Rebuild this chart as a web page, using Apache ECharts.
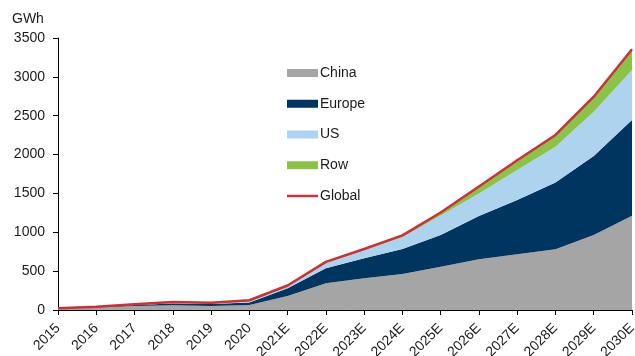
<!DOCTYPE html>
<html>
<head>
<meta charset="utf-8">
<script src="https://cdn.jsdelivr.net/npm/echarts@6/dist/echarts.min.js"></script>
<style>
html,body{margin:0;padding:0;background:#fff;}
#chart{width:635px;height:356px;}
</style>
</head>
<body>
<div id="chart"></div>
<script>
var categories = ['2015','2016','2017','2018','2019','2020','2021E','2022E','2023E','2024E','2025E','2026E','2027E','2028E','2029E','2030E'];
var china  = [17, 33, 50, 60, 51, 64, 180, 344, 408, 463, 557, 652, 717, 781, 965, 1214];
var europe = [3, 6, 15, 25, 26, 32, 99, 193, 257, 322, 408, 558, 699, 860, 1017, 1231];
var us     = [1, 2, 4, 8, 7, 14, 21, 64, 105, 150, 250, 290, 386, 461, 570, 644];
var row    = [1, 2, 4, 10, 10, 15, 15, 19, 15, 25, 40, 90, 125, 150, 193, 266];
var globalTotal = [22, 43, 73, 103, 94, 125, 315, 620, 785, 960, 1255, 1590, 1927, 2252, 2745, 3355];
var yTicks = [0, 500, 1000, 1500, 2000, 2500, 3000, 3500];

var font = 'Liberation Sans, Arial, sans-serif';
var txt = '#1a1a1a';
function area(name, data, color) {
  return {
    name: name, type: 'line', stack: 'total', data: data,
    symbol: 'none', lineStyle: {width: 0}, areaStyle: {color: color, opacity: 1},
    itemStyle: {color: color}, emphasis: {disabled: true}, z: 2
  };
}
var chart = echarts.init(document.getElementById('chart'), null, {renderer: 'canvas'});
chart.setOption({
  animation: false,
  backgroundColor: '#fff',
  grid: {left: 58, right: 3, top: 38, bottom: 46, containLabel: false, outerBoundsMode: 'none'},
  graphic: [{type: 'text', left: 12, top: 12, style: {text: 'GWh', font: '14px ' + font, fill: txt}}],
  legend: {
    orient: 'vertical', left: 282, top: 60,
    itemWidth: 31, itemHeight: 8, itemGap: 14.75,
    textStyle: {fontFamily: font, fontSize: 14, color: txt, lineHeight: 16, padding: [0,0,0,-3]},
    data: [
      {name: 'China', icon: 'rect'},
      {name: 'Europe', icon: 'rect'},
      {name: 'US', icon: 'rect'},
      {name: 'Row', icon: 'rect'},
      {name: 'Global', icon: 'path://M0,0h31v2.5h-31z'}
    ]
  },
  xAxis: {
    type: 'category', data: categories, boundaryGap: false,
    axisLine: {lineStyle: {color: '#000', width: 1}},
    axisTick: {show: true, length: 5, alignWithLabel: true, lineStyle: {color: '#000'}},
    axisLabel: {rotate: 45, margin: 16, fontFamily: font, fontSize: 14, color: txt, interval: 0}
  },
  yAxis: {
    type: 'value', min: 0, max: 3500, interval: 500,
    axisLine: {show: true, lineStyle: {color: '#000', width: 1}},
    axisTick: {show: true, length: 5, inside: false, lineStyle: {color: '#000'}},
    splitLine: {show: false},
    axisLabel: {margin: 13, fontFamily: font, fontSize: 14, color: txt,
      formatter: function (v) { return yTicks.indexOf(v) >= 0 ? String(v) : ''; }}
  },
  series: [
    area('China', china, '#A5A5A5'),
    area('Europe', europe, '#00355F'),
    area('US', us, '#ADD3EF'),
    area('Row', row, '#8CC14A'),
    {name: 'Global', type: 'line', data: globalTotal, symbol: 'none',
     lineStyle: {color: '#C8323A', width: 2.5}, itemStyle: {color: '#C8323A'}, z: 5}
  ]
});
</script>
</body>
</html>
